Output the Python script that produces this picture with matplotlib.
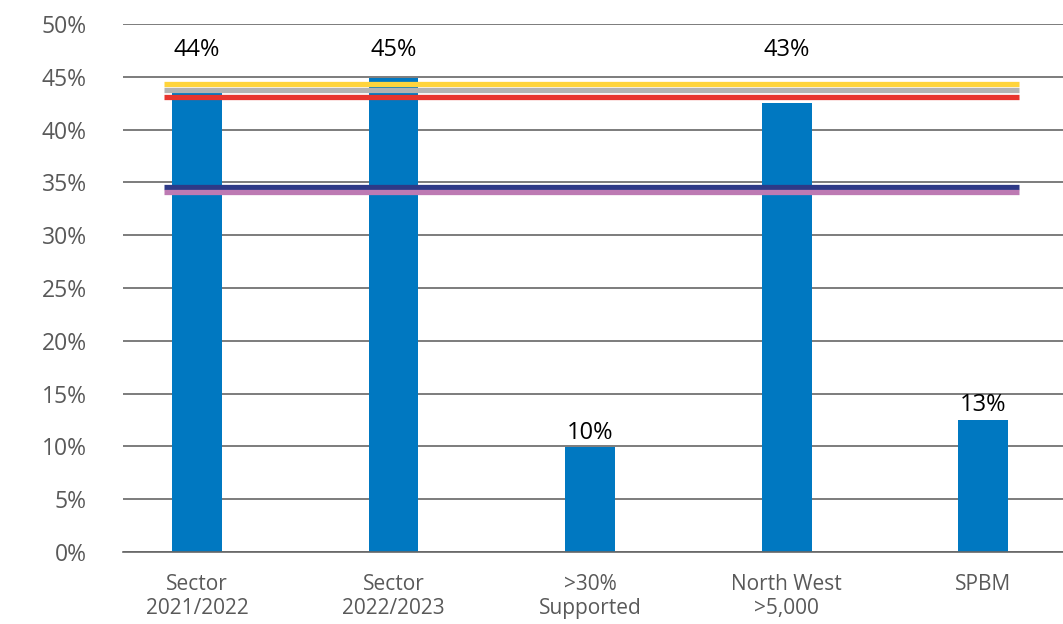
import numpy as np
import matplotlib.pyplot as plt

categories = ['Sector\n2021/2022', 'Sector\n2022/2023', '>30%\nSupported', 'North West\n>5,000', 'SPBM']
values = [0.435, 0.449, 0.099, 0.425, 0.125]
labels = ['44%', '45%', '10%', '43%', '13%']

# benchmark lines (drawn across the chart)
ref_values = [0.443, 0.4375, 0.4305, 0.3457, 0.341]
ref_colors = ['#FFD43B', '#B3B3B3', '#E8352E', '#2E3A87', '#BD7AB3']

plt.rcParams['font.family'] = ['Open Sans', 'DejaVu Sans']

fig = plt.figure(figsize=(10.63, 6.24), dpi=100)
ax = fig.add_axes([0.1157, 0.1154, 0.8843, 0.8461])

x = np.arange(len(categories))
ax.bar(x, values, width=0.254, color='#0078C1', zorder=2)

for v, c in zip(ref_values, ref_colors):
    ax.hlines(v, -0.168, 4.18, color=c, linewidth=3.8, zorder=3)

for xi, v, t in zip(x, values, labels):
    # labels of the tall bars sit above the benchmark lines
    y = 0.475 if v > 0.4 else v + 0.014
    ax.text(xi, y, t, ha='center', va='center', fontsize=17, color='black')

ax.set_ylim(0, 0.5)
ax.set_xlim(-0.376, 4.405)
ax.set_yticks(np.arange(0, 0.51, 0.05))
ax.set_yticklabels([f'{int(round(t * 100))}%' for t in np.arange(0, 0.51, 0.05)])
ax.set_xticks(x)
ax.set_xticklabels(categories, linespacing=1.15)
ax.tick_params(axis='y', length=0, pad=26, labelsize=16.5, labelcolor='#595959')
ax.tick_params(axis='x', length=0, pad=16, labelsize=15, labelcolor='#595959')

ax.grid(axis='y', color='#666666', linewidth=1.2, zorder=0)
ax.set_axisbelow(True)
for s in ['top', 'right', 'left']:
    ax.spines[s].set_visible(False)
ax.spines['bottom'].set_color('#666666')
ax.spines['bottom'].set_linewidth(1.2)

fig.savefig('out.png', dpi=100)
